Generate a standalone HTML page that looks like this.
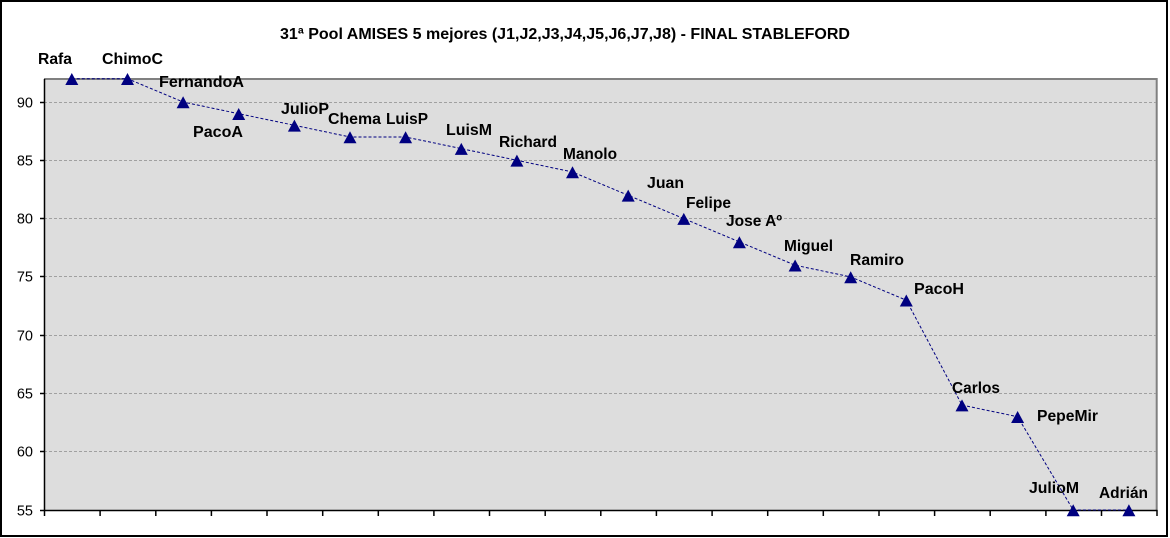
<!DOCTYPE html>
<html><head><meta charset="utf-8"><style>
html,body{margin:0;padding:0;background:#fff;}
svg{display:block;}
text{font-family:"Liberation Sans",Arial,sans-serif;}
</style></head><body>
<svg width="1170" height="538" viewBox="0 0 1170 538" xmlns="http://www.w3.org/2000/svg">
<rect x="0" y="0" width="1170" height="538" fill="#fff"/>
<rect x="1" y="1" width="1166" height="535" fill="none" stroke="#000" stroke-width="2"/>
<!-- plot area -->
<rect x="44" y="79" width="1112.7" height="431" fill="#dddddd"/>
<polyline points="44,79 1156.7,79 1156.7,510" fill="none" stroke="#808080" stroke-width="2"/>
<!-- gridlines -->
<g stroke="#a0a0a0" stroke-width="1" stroke-dasharray="3 2">
<line x1="44" x2="1156" y1="102.5" y2="102.5"/>
<line x1="44" x2="1156" y1="160.5" y2="160.5"/>
<line x1="44" x2="1156" y1="218.5" y2="218.5"/>
<line x1="44" x2="1156" y1="276.5" y2="276.5"/>
<line x1="44" x2="1156" y1="335.5" y2="335.5"/>
<line x1="44" x2="1156" y1="393.5" y2="393.5"/>
<line x1="44" x2="1156" y1="451.5" y2="451.5"/>
</g>
<!-- axes -->
<g stroke="#000" stroke-width="1.5">
<line x1="44.5" y1="79" x2="44.5" y2="511"/>
<line x1="44" y1="510.5" x2="1157.5" y2="510.5"/>
<line x1="40" x2="44" y1="102.5" y2="102.5"/>
<line x1="40" x2="44" y1="160.5" y2="160.5"/>
<line x1="40" x2="44" y1="218.5" y2="218.5"/>
<line x1="40" x2="44" y1="276.5" y2="276.5"/>
<line x1="40" x2="44" y1="335.5" y2="335.5"/>
<line x1="40" x2="44" y1="393.5" y2="393.5"/>
<line x1="40" x2="44" y1="451.5" y2="451.5"/>
<line x1="40" x2="44" y1="510.5" y2="510.5"/>
</g>
<g stroke="#000" stroke-width="1.5">
<line x1="44.5" x2="44.5" y1="510" y2="516"/>
<line x1="100.1" x2="100.1" y1="510" y2="516"/>
<line x1="155.8" x2="155.8" y1="510" y2="516"/>
<line x1="211.4" x2="211.4" y1="510" y2="516"/>
<line x1="267" x2="267" y1="510" y2="516"/>
<line x1="322.7" x2="322.7" y1="510" y2="516"/>
<line x1="378.3" x2="378.3" y1="510" y2="516"/>
<line x1="433.9" x2="433.9" y1="510" y2="516"/>
<line x1="489.5" x2="489.5" y1="510" y2="516"/>
<line x1="545.2" x2="545.2" y1="510" y2="516"/>
<line x1="600.8" x2="600.8" y1="510" y2="516"/>
<line x1="656.4" x2="656.4" y1="510" y2="516"/>
<line x1="712.1" x2="712.1" y1="510" y2="516"/>
<line x1="767.7" x2="767.7" y1="510" y2="516"/>
<line x1="823.3" x2="823.3" y1="510" y2="516"/>
<line x1="879" x2="879" y1="510" y2="516"/>
<line x1="934.6" x2="934.6" y1="510" y2="516"/>
<line x1="990.2" x2="990.2" y1="510" y2="516"/>
<line x1="1045.9" x2="1045.9" y1="510" y2="516"/>
<line x1="1101.5" x2="1101.5" y1="510" y2="516"/>
<line x1="1157" x2="1157" y1="510" y2="516"/>
</g>
<!-- y labels -->
<g font-size="14.5" fill="#000" text-anchor="end">
<text x="33" y="107.5">90</text>
<text x="33" y="165.5">85</text>
<text x="33" y="223.5">80</text>
<text x="33" y="281.5">75</text>
<text x="33" y="340.5">70</text>
<text x="33" y="398.5">65</text>
<text x="33" y="456.5">60</text>
<text x="33" y="515.5">55</text>
</g>
<!-- title -->
<text x="280" y="39" font-size="16" font-weight="bold" textLength="570" lengthAdjust="spacingAndGlyphs">31ª Pool AMISES 5 mejores (J1,J2,J3,J4,J5,J6,J7,J8) - FINAL STABLEFORD</text>
<!-- series line -->
<polyline fill="none" stroke="#000080" stroke-width="1" stroke-dasharray="3 2"
points="71.8,78.7 127.5,78.7 183.1,102 238.7,113.7 294.4,125.3 350,137 405.6,137 461.3,148.6 516.9,160.3 572.5,172 628.2,195.3 683.8,218.6 739.4,241.9 795.1,265.2 850.7,276.9 906.3,300.2 962,405.1 1017.6,416.7 1073.2,510 1128.9,510"/>
<!-- markers -->
<g fill="#000080">
<path d="M71.8,73 l6.5,12 h-13z"/>
<path d="M127.5,73 l6.5,12 h-13z"/>
<path d="M183.1,96.3 l6.5,12 h-13z"/>
<path d="M238.7,108 l6.5,12 h-13z"/>
<path d="M294.4,119.6 l6.5,12 h-13z"/>
<path d="M350,131.3 l6.5,12 h-13z"/>
<path d="M405.6,131.3 l6.5,12 h-13z"/>
<path d="M461.3,142.9 l6.5,12 h-13z"/>
<path d="M516.9,154.6 l6.5,12 h-13z"/>
<path d="M572.5,166.3 l6.5,12 h-13z"/>
<path d="M628.2,189.6 l6.5,12 h-13z"/>
<path d="M683.8,212.9 l6.5,12 h-13z"/>
<path d="M739.4,236.2 l6.5,12 h-13z"/>
<path d="M795.1,259.5 l6.5,12 h-13z"/>
<path d="M850.7,271.2 l6.5,12 h-13z"/>
<path d="M906.3,294.5 l6.5,12 h-13z"/>
<path d="M962,399.4 l6.5,12 h-13z"/>
<path d="M1017.6,411 l6.5,12 h-13z"/>
<path d="M1073.2,504.3 l6.5,12 h-13z"/>
<path d="M1128.9,504.3 l6.5,12 h-13z"/>
</g>
<!-- data labels -->
<g font-size="16" font-weight="bold" fill="#000">
<text x="38" y="64" textLength="34" lengthAdjust="spacingAndGlyphs">Rafa</text>
<text x="102" y="64" textLength="61" lengthAdjust="spacingAndGlyphs">ChimoC</text>
<text x="159" y="87" textLength="85" lengthAdjust="spacingAndGlyphs">FernandoA</text>
<text x="193" y="137" textLength="50" lengthAdjust="spacingAndGlyphs">PacoA</text>
<text x="281" y="114" textLength="48" lengthAdjust="spacingAndGlyphs">JulioP</text>
<text x="328" y="124" textLength="53" lengthAdjust="spacingAndGlyphs">Chema</text>
<text x="386" y="124" textLength="42" lengthAdjust="spacingAndGlyphs">LuisP</text>
<text x="446" y="135" textLength="46" lengthAdjust="spacingAndGlyphs">LuisM</text>
<text x="499" y="147" textLength="58" lengthAdjust="spacingAndGlyphs">Richard</text>
<text x="563" y="159" textLength="54" lengthAdjust="spacingAndGlyphs">Manolo</text>
<text x="647" y="188" textLength="37" lengthAdjust="spacingAndGlyphs">Juan</text>
<text x="686" y="208" textLength="45" lengthAdjust="spacingAndGlyphs">Felipe</text>
<text x="726" y="226" textLength="56" lengthAdjust="spacingAndGlyphs">Jose Aº</text>
<text x="784" y="251" textLength="49" lengthAdjust="spacingAndGlyphs">Miguel</text>
<text x="850" y="265" textLength="54" lengthAdjust="spacingAndGlyphs">Ramiro</text>
<text x="914" y="294" textLength="50" lengthAdjust="spacingAndGlyphs">PacoH</text>
<text x="952" y="393" textLength="48" lengthAdjust="spacingAndGlyphs">Carlos</text>
<text x="1037" y="421" textLength="61" lengthAdjust="spacingAndGlyphs">PepeMir</text>
<text x="1029" y="493" textLength="50" lengthAdjust="spacingAndGlyphs">JulioM</text>
<text x="1099" y="498" textLength="49" lengthAdjust="spacingAndGlyphs">Adrián</text>
</g>
</svg>
</body></html>
